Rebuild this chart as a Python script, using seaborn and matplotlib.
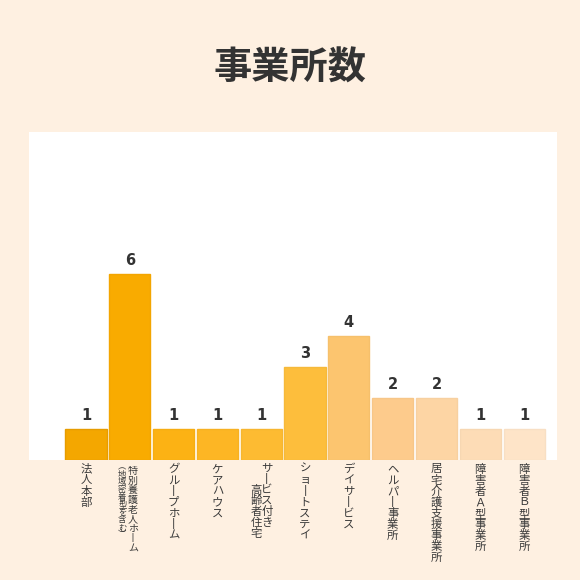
import matplotlib
matplotlib.use("Agg")
import matplotlib.pyplot as plt
import matplotlib.transforms as mtransforms
import seaborn as sns
import pandas as pd

# data
categories = [
    "法人本部",
    "特別養護老人ホーム\n（地域密着型を含む）",
    "グループホーム",
    "ケアハウス",
    "サービス付き\n　　高齢者住宅",
    "ショートステイ",
    "デイサービス",
    "ヘルパー事業所",
    "居宅介護支援事業所",
    "障害者Ａ型事業所",
    "障害者Ｂ型事業所",
]
counts = [1, 6, 1, 1, 1, 3, 4, 2, 2, 1, 1]
bar_colors = ["#f4a700", "#f9ab00", "#fcb214", "#fdb624", "#fdbb32", "#fdbe3c",
              "#fcc56f", "#fdcb8c", "#fdd5a4", "#fddcb6", "#fee4c8"]
edge_colors = ["#e69c00", "#f3a500", "#f6ad12", "#f7b122", "#f7b630", "#f6b93a",
               "#f6c06b", "#f7c688", "#f7d0a0", "#f7d7b2", "#f8dfc4"]
title = "事業所数"

bg = "#fef0e1"
txt = "#333333"

sns.set_theme(style="white")
plt.rcParams["font.family"] = ["Noto Sans CJK JP", "DejaVu Sans"]

df = pd.DataFrame({"cat": categories, "n": counts})

fig = plt.figure(figsize=(5.8, 5.8), dpi=100, facecolor=bg)
ax = fig.add_axes([0.05, 0.2069, 0.9103, 0.5655])
ax.set_facecolor("white")

sns.barplot(data=df, x="cat", y="n", hue="cat", palette=bar_colors,
            legend=False, width=0.94, ax=ax, saturation=1)
for p, ec in zip(ax.patches, edge_colors):
    p.set_edgecolor(ec)
    p.set_linewidth(1)

ax.set_xlim(-1.30, 10.75)
ax.set_ylim(0, 10.6)
for s in ax.spines.values():
    s.set_visible(False)
ax.set_xticks([])
ax.set_yticks([])
ax.set_xlabel("")
ax.set_ylabel("")

# value labels
for i, v in enumerate(counts):
    ax.annotate(str(v), (i, v), xytext=(0, 4.5), textcoords="offset points",
                ha="center", va="bottom", fontsize=10.5, fontweight="bold",
                color=txt, family="DejaVu Sans")

# vertical (tategaki) category labels, one glyph at a time
vert = {"ー": "丨", "（": "︵", "）": "︶"}
trans = mtransforms.blended_transform_factory(ax.transData, ax.transAxes)


def tategaki(x, col, size, pitch, top):
    for k, c in enumerate(col):
        ax.annotate(vert.get(c, c), (x, 0), xycoords=trans,
                    xytext=(0, -(top + (k + 0.5) * pitch)), textcoords="offset points",
                    ha="center", va="center", fontsize=size, color="#3a3a3a")


for i, lab in enumerate(categories):
    cols = lab.split("\n")
    if len(cols) == 1:
        tategaki(i, cols[0], 8.2, 8.0, 2.6)
    elif len(lab) > 16:
        tategaki(i + 0.07, cols[0], 7.2, 6.9, 4.6)
        tategaki(i - 0.17, cols[1], 6.0, 5.45, 2.2)
    else:
        tategaki(i + 0.13, cols[0], 8.2, 7.8, 2.2)
        tategaki(i - 0.12, cols[1], 8.2, 7.8, 2.2)

fig.text(0.5, 0.883, title, ha="center", va="center", fontsize=27.5,
         fontweight="bold", color=txt)

fig.savefig("out.png", dpi=100, facecolor=bg)
